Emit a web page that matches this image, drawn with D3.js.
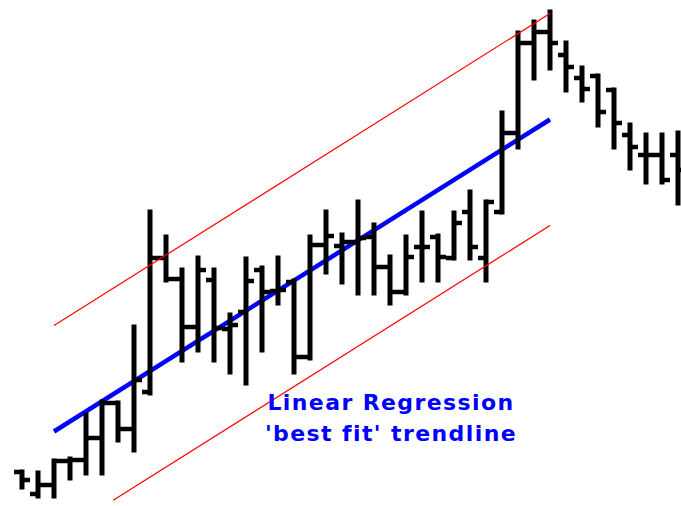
<!DOCTYPE html>
<html>
<head>
<meta charset="utf-8">
<script src="https://cdn.jsdelivr.net/npm/d3@7"></script>
<style>
  body { margin: 0; background: #fff; }
  svg { display: block; }
</style>
</head>
<body>
<svg width="681" height="506"></svg>
<script>
// bar index 0..41, one price bar per period
const opens = [6.8, 2.4, 4.2, 9.0, 9.2, 13.6, 20.6, 15.4, 22.8, 49.6, 45.4, 35.8, 45.2, 35.4, 38.8, 47.2, 43.0, 44.8, 29.8, 52.2, 52.0,
  52.8, 53.8, 47.8, 42.8, 51.8, 53.8, 49.6, 58.8, 49.6, 58.8, 74.6, 92.6, 94.8, 90.2, 85.6, 86.0, 83.2, 74.2, 70.2, 70.2, 70.2];
const highs = [6.8, 6.6, 9.0, 9.4, 18.2, 20.8, 20.6, 35.8, 58.8, 53.8, 47.2, 49.6, 47.2, 38.2, 49.4, 47.6, 49.6, 45.0, 53.8, 58.8, 54.2,
  60.8, 56.2, 49.8, 53.8, 58.6, 54.0, 58.6, 62.8, 60.8, 78.6, 94.6, 96.8, 98.8, 92.6, 87.6, 86.0, 83.2, 76.2, 74.2, 74.2, 74.6];
const lows = [3.8, 2.0, 2.0, 5.6, 6.6, 6.6, 13.2, 11.2, 22.6, 45.2, 29.2, 31.2, 29.2, 26.8, 24.6, 31.2, 40.6, 26.8, 29.6, 46.8, 44.8,
  42.6, 42.6, 40.6, 42.6, 45.2, 45.2, 49.6, 49.6, 45.2, 58.8, 71.8, 85.6, 87.6, 83.2, 81.2, 76.2, 71.8, 67.6, 64.8, 64.8, 60.6];
const closes = [5.2, 4.2, 9.0, 9.2, 13.6, 20.6, 15.4, 25.2, 49.6, 45.4, 35.8, 47.2, 35.6, 36.2, 45.0, 42.8, 43.2, 29.8, 52.2, 54.0, 52.8,
  53.6, 47.8, 42.8, 49.8, 51.8, 49.8, 56.6, 51.8, 60.8, 74.6, 92.6, 94.8, 92.6, 87.8, 83.4, 78.8, 76.6, 71.8, 70.2, 65.2, 67.2];

// trendline (bar index, value) and half width of the channel
const trendIdx = [2, 33];
const trendVal = [14.9, 77.3];
const channel = 21.2;
const lowerStartIdx = 5.7; // lower channel line only shown from here

const labelLines = ["Linear Regression", "'best fit' trendline"];

var svg = d3.select("svg"),
  width = +svg.attr("width"),
  height = +svg.attr("height");

var x = d3.scaleLinear().domain([0, 41]).range([22, 678]);
var y = d3.scaleLinear().domain([0, 101.2]).range([height, 0]);

var line = d3.line()
  .x((d) => x(d[0]))
  .y((d) => y(d[1]));

// value of the trendline at a bar index
var trendAt = d3.scaleLinear().domain(trendIdx).range(trendVal);

// =========================================================================
// REGRESSION LINE
// =========================================================================
svg.append("path")
  .datum(trendIdx.map((d, i) => [d, trendVal[i]]))
  .attr("d", line)
  .attr("fill", "none")
  .attr("stroke", "#0000ff")
  .attr("stroke-width", 4.5);

// =========================================================================
// BARS
// =========================================================================
var bars = svg.selectAll(".bar")
  .data(d3.range(opens.length))
  .enter()
  .append("g")
  .attr("class", "bar");

bars.append("line")
  .attr("x1", (i) => x(i))
  .attr("x2", (i) => x(i))
  .attr("y1", (i) => y(highs[i]))
  .attr("y2", (i) => y(lows[i]))
  .attr("stroke", "#000")
  .attr("stroke-width", 5)
  .attr("stroke-linecap", "square");

// open tick (left)
bars.append("line")
  .attr("x1", (i) => x(i) - 8)
  .attr("x2", (i) => x(i))
  .attr("y1", (i) => y(opens[i]))
  .attr("y2", (i) => y(opens[i]))
  .attr("stroke", "#000")
  .attr("stroke-width", 4.5);

// close tick (right)
bars.append("line")
  .attr("x1", (i) => x(i))
  .attr("x2", (i) => x(i) + 8)
  .attr("y1", (i) => y(closes[i]))
  .attr("y2", (i) => y(closes[i]))
  .attr("stroke", "#000")
  .attr("stroke-width", 4.5);

// =========================================================================
// CHANNEL LINES
// =========================================================================
svg.append("path")
  .datum(trendIdx.map((d, i) => [d, trendVal[i] + channel]))
  .attr("d", line)
  .attr("fill", "none")
  .attr("stroke", "#ff0000")
  .attr("stroke-width", 1.2);

svg.append("path")
  .datum([[lowerStartIdx, trendAt(lowerStartIdx) - channel], [trendIdx[1], trendVal[1] - channel]])
  .attr("d", line)
  .attr("fill", "none")
  .attr("stroke", "#ff0000")
  .attr("stroke-width", 1.2);

// =========================================================================
// LABEL
// =========================================================================
svg.append("g")
  .selectAll("text")
  .data(labelLines)
  .enter()
  .append("text")
  .attr("x", 391)
  .attr("y", (d, i) => 410 + i * 31)
  .attr("text-anchor", "middle")
  .attr("fill", "#0000ff")
  .style("font-family", "'DejaVu Sans', sans-serif")
  .style("font-weight", "bold")
  .style("font-size", "22px")
  .style("letter-spacing", "1.4px")
  .text((d) => d);
</script>
</body>
</html>
